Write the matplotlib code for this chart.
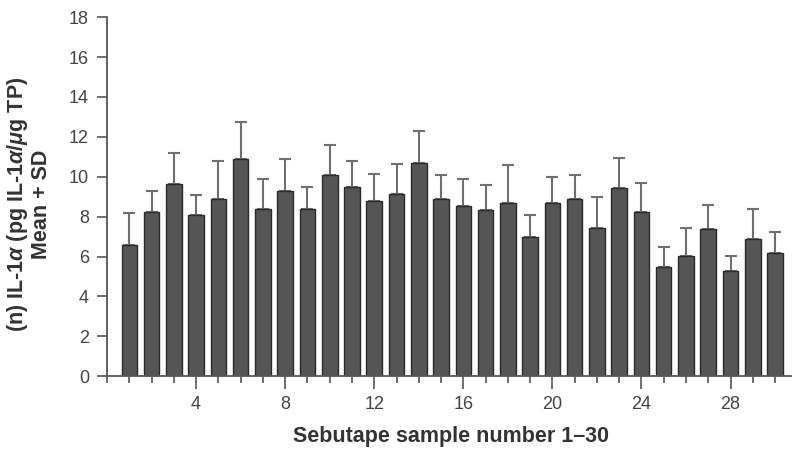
import numpy as np
import matplotlib
matplotlib.use("Agg")
import matplotlib.pyplot as plt
from matplotlib.ticker import MultipleLocator

plt.rcParams['font.family'] = ['Liberation Sans', 'DejaVu Sans']
plt.rcParams['mathtext.fontset'] = 'custom'
plt.rcParams['mathtext.rm'] = 'Liberation Sans:bold'
plt.rcParams['mathtext.it'] = 'Liberation Sans:italic:bold'
plt.rcParams['mathtext.bf'] = 'Liberation Sans:bold'

samples = np.arange(1, 31)
mean_il1a = [6.57, 8.21, 9.63, 8.07, 8.88, 10.87, 8.37, 9.29, 8.39, 10.10,
             9.46, 8.78, 9.11, 10.70, 8.89, 8.53, 8.31, 8.69, 6.99, 8.69,
             8.89, 7.44, 9.44, 8.24, 5.48, 6.03, 7.37, 5.27, 6.87, 6.18]
sd_il1a = [1.59, 1.05, 1.54, 1.01, 1.89, 1.85, 1.51, 1.58, 1.07, 1.48,
           1.32, 1.35, 1.55, 1.60, 1.21, 1.33, 1.27, 1.89, 1.07, 1.30,
           1.19, 1.52, 1.51, 1.46, 1.00, 1.41, 1.22, 0.76, 1.49, 1.03]
y_ticks = [0, 2, 4, 6, 8, 10, 12, 14, 16, 18]
x_ticks = [4, 8, 12, 16, 20, 24, 28]

fig = plt.figure(figsize=(7.93, 4.5), dpi=100)
ax = fig.add_axes([0.135, 0.164, 0.862, 0.798])

ax.errorbar(samples, mean_il1a, yerr=[np.zeros(len(sd_il1a)), sd_il1a],
            fmt='none', ecolor='#707070', elinewidth=1.5, capsize=4.5,
            capthick=1.5, zorder=1)
ax.bar(samples, mean_il1a, width=0.7, color='#555555', edgecolor='#2a2a2a',
       linewidth=1.0, zorder=2)

ax.set_xlim(0, 30.7)
ax.set_ylim(0, 18)
ax.set_yticks(y_ticks)
ax.set_xticks(x_ticks)
ax.xaxis.set_minor_locator(MultipleLocator(1))

for side in ('top', 'right'):
    ax.spines[side].set_visible(False)
for side in ('left', 'bottom'):
    ax.spines[side].set_color('#555555')
    ax.spines[side].set_linewidth(1.3)

ax.tick_params(axis='y', which='major', length=7, width=1.2, color='#555555',
               labelsize=13, labelcolor='#444444', pad=6)
ax.tick_params(axis='x', which='major', length=9, width=1.2, color='#555555',
               labelsize=13, labelcolor='#444444', pad=5)
ax.tick_params(axis='x', which='minor', length=5, width=1.2, color='#555555')

ax.set_xlabel('Sebutape sample number 1\u201330', fontsize=15.5,
              fontweight='bold', color='#333333')
ax.set_ylabel('(n) IL-1$\\alpha$ (pg IL-1$\\alpha$/$\\mu$g TP)\nMean + SD',
              fontsize=15.5, fontweight='bold', color='#333333',
              linespacing=1.1)
ax.xaxis.set_label_coords(0.503, -0.14)
ax.yaxis.set_label_coords(-0.080, 0.48)

fig.savefig('out.png', dpi=100)
